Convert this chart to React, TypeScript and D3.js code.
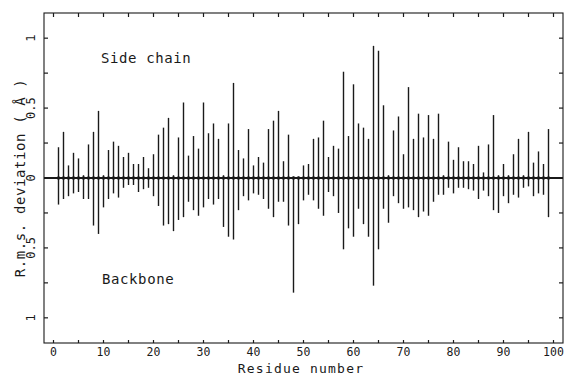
import * as d3 from 'd3';

// r.m.s. deviation per residue (residues 1..99)
const sideChain = [
  0.22, 0.33, 0.09, 0.18, 0.14, 0.02, 0.24, 0.33, 0.48, 0.02,
  0.2, 0.26, 0.23, 0.15, 0.18, 0.1, 0.1, 0.15, 0.07, 0.17,
  0.31, 0.36, 0.43, 0.02, 0.29, 0.54, 0.16, 0.3, 0.21, 0.54,
  0.32, 0.39, 0.28, 0.02, 0.39, 0.68, 0.2, 0.14, 0.35, 0.09,
  0.15, 0.11, 0.35, 0.41, 0.48, 0.12, 0.31, 0.01, 0.01, 0.09,
  0.1, 0.28, 0.29, 0.41, 0.15, 0.23, 0.21, 0.76, 0.3, 0.67,
  0.39, 0.36, 0.28, 0.945, 0.91, 0.52, 0.02, 0.34, 0.44, 0.17,
  0.65, 0.28, 0.46, 0.29, 0.45, 0.28, 0.46, 0.02, 0.26, 0.13,
  0.22, 0.12, 0.12, 0.1, 0.23, 0.04, 0.24, 0.45, 0.02, 0.1,
  0.02, 0.17, 0.28, 0.02, 0.33, 0.11, 0.19, 0.1, 0.35,
];

const backbone = [
  0.19, 0.15, 0.13, 0.11, 0.1, 0.15, 0.15, 0.34, 0.4, 0.21,
  0.15, 0.11, 0.14, 0.07, 0.05, 0.05, 0.1, 0.08, 0.07, 0.13,
  0.2, 0.34, 0.33, 0.38, 0.3, 0.28, 0.17, 0.23, 0.27, 0.21,
  0.15, 0.19, 0.15, 0.35, 0.42, 0.44, 0.23, 0.13, 0.16, 0.11,
  0.12, 0.15, 0.22, 0.28, 0.17, 0.17, 0.34, 0.82, 0.33, 0.16,
  0.12, 0.16, 0.22, 0.27, 0.1, 0.13, 0.25, 0.51, 0.36, 0.42,
  0.22, 0.33, 0.42, 0.77, 0.51, 0.22, 0.32, 0.13, 0.18, 0.22,
  0.21, 0.23, 0.28, 0.24, 0.27, 0.17, 0.12, 0.12, 0.07, 0.11,
  0.07, 0.07, 0.08, 0.09, 0.15, 0.09, 0.13, 0.23, 0.25, 0.13,
  0.18, 0.12, 0.14, 0.07, 0.06, 0.13, 0.11, 0.12, 0.28,
];

const xLabelTicks = [0, 10, 20, 30, 40, 50, 60, 70, 80, 90, 100];
const xMinorTicks = [0, 5, 10, 15, 20, 25, 30, 35, 40, 45, 50, 55, 60, 65, 70, 75, 80, 85, 90, 95, 100];
const yLabelTicks = [-1, -0.5, 0, 0.5, 1];
const yMinorTicks = [-1, -0.75, -0.5, -0.25, 0, 0.25, 0.5, 0.75, 1];

const font = '"DejaVu Sans Mono", monospace';
const ink = '#1a1a1a';

export default function App() {
  const width = 567;
  const height = 375;
  const left = 44;
  const right = 563;
  const top = 13;
  const bottom = 343;

  const x = d3.scaleLinear().domain([-1.9, 101.9]).range([left, right]);
  const y = d3.scaleLinear().domain([-1.18, 1.18]).range([bottom, top]);

  const residues = sideChain.map((sc, i) => ({ n: i + 1, sc, bb: backbone[i] }));

  return (
    <div style={{ position: 'absolute', left: 0, top: 0 }}>
      <svg width={width} height={height} style={{ display: 'block', background: '#fff' }}>
        {/* bars: side chain up, backbone down */}
        {residues.map((r) => (
          <line
            key={`b${r.n}`}
            x1={x(r.n)}
            x2={x(r.n)}
            y1={y(r.sc)}
            y2={y(-r.bb)}
            stroke={ink}
            strokeWidth={1.4}
          />
        ))}

        {/* zero line with beads */}
        <line x1={left} x2={right} y1={y(0)} y2={y(0)} stroke={ink} strokeWidth={2} />
        {residues.map((r) => (
          <circle key={`d${r.n}`} cx={x(r.n)} cy={y(0)} r={1.8} fill={ink} />
        ))}

        {/* frame */}
        <rect x={left} y={top} width={right - left} height={bottom - top} fill="none" stroke={ink} strokeWidth={1.1} />

        {/* x ticks top & bottom */}
        {xMinorTicks.map((t) => (
          <g key={`xt${t}`}>
            <line x1={x(t)} x2={x(t)} y1={top} y2={top + 4} stroke={ink} strokeWidth={1.2} />
            <line x1={x(t)} x2={x(t)} y1={bottom} y2={bottom - 3} stroke={ink} strokeWidth={1.2} />
          </g>
        ))}
        {xLabelTicks.map((t) => (
          <text key={`xl${t}`} x={x(t)} y={356} textAnchor="middle" fontFamily={font} fontSize={11.5} fill={ink}>
            {t}
          </text>
        ))}

        {/* y ticks left & right */}
        {yMinorTicks.map((t) => (
          <g key={`yt${t}`}>
            <line x1={left} x2={left + 4} y1={y(t)} y2={y(t)} stroke={ink} strokeWidth={1.2} />
            <line x1={right} x2={right - 4} y1={y(t)} y2={y(t)} stroke={ink} strokeWidth={1.2} />
          </g>
        ))}
        {yLabelTicks.map((t) => (
          <text
            key={`yl${t}`}
            transform={`translate(35,${y(t)}) rotate(-90)`}
            textAnchor="middle"
            fontFamily={font}
            fontSize={12}
            fill={ink}
          >
            {Math.abs(t)}
          </text>
        ))}

        {/* titles */}
        <text x={301} y={373} textAnchor="middle" fontFamily={font} fontSize={13} letterSpacing={1.2} fill={ink}>
          Residue number
        </text>
        <text
          transform={`translate(25,${y(0)}) rotate(-90)`}
          textAnchor="middle"
          fontFamily={font}
          fontSize={14}
          letterSpacing={0.6}
          fill={ink}
        >
          R.m.s. deviation ( Å )
        </text>
        <text x={101} y={63} fontFamily={font} fontSize={14} letterSpacing={0.6} fill={ink}>
          Side chain
        </text>
        <text x={102} y={284} fontFamily={font} fontSize={14} letterSpacing={0.6} fill={ink}>
          Backbone
        </text>
      </svg>
    </div>
  );
}
